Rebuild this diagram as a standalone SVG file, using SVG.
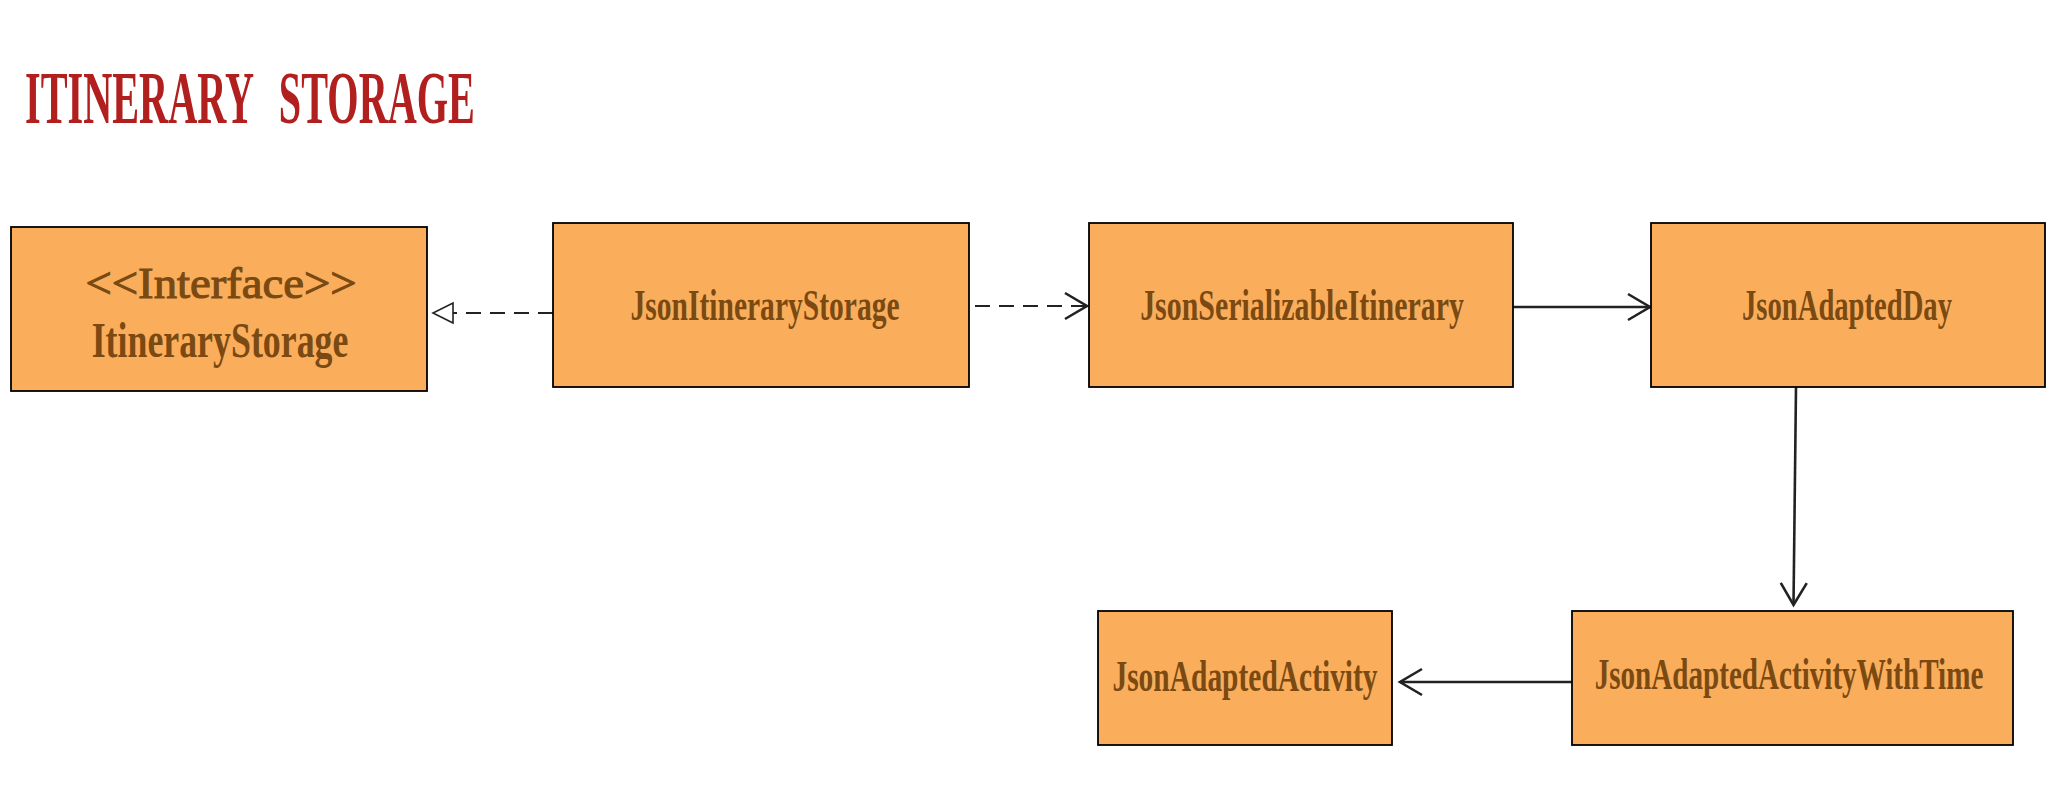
<svg xmlns="http://www.w3.org/2000/svg" width="2059" height="806" viewBox="0 0 2059 806">
<style>
.box{fill:#FAAE5C;stroke:#000;stroke-width:1.8}
.lbl{font-family:"Liberation Serif","DejaVu Serif",serif;font-weight:bold;fill:#7A4A12;text-anchor:middle;font-size:45px}
.title{font-family:"Liberation Serif","DejaVu Serif",serif;font-weight:bold;fill:#B21F1F;font-size:74px;word-spacing:30px}
.con{fill:none;stroke:#222;stroke-width:2.6}
.dash{stroke-dasharray:15 9;stroke-width:2.2}
</style>
<defs>
<marker id="open" markerUnits="userSpaceOnUse" viewBox="-26 -16 29 32" refX="0" refY="0" markerWidth="29" markerHeight="32" orient="auto" overflow="visible">
<path d="M -22 -13 L 0 0 L -22 13" fill="none" stroke="#222" stroke-width="2.6" stroke-linejoin="miter"/>
</marker>
<marker id="hollow" markerUnits="userSpaceOnUse" viewBox="-24 -14 27 28" refX="0" refY="0" markerWidth="27" markerHeight="28" orient="auto" overflow="visible">
<path d="M -20 -10 L 0 0 L -20 10 Z" fill="#fff" stroke="#222" stroke-width="1.6"/>
</marker>
</defs>
<rect width="2059" height="806" fill="#fff"/>
<text class="title" transform="translate(25,123) scale(0.53,1)" x="0" y="0" textLength="849" lengthAdjust="spacingAndGlyphs">ITINERARY STORAGE</text>

<g id="connectors">
<path class="con dash" d="M 553 313 L 433 313" marker-end="url(#hollow)"/>
<path class="con dash" d="M 975 306 L 1087 306" marker-end="url(#open)"/>
<path class="con" d="M 1513 307 L 1650 307" marker-end="url(#open)"/>
<path class="con" d="M 1796 387 L 1793.5 605" marker-end="url(#open)"/>
<path class="con" d="M 1572 682 L 1400 682" marker-end="url(#open)"/>
</g>

<g id="ItineraryStorage">
<rect class="box" x="11" y="227" width="416" height="164"/>
<text class="lbl" transform="translate(221,298) scale(0.65,1)" x="0" y="0" style="font-weight:normal;stroke:#7A4A12;stroke-width:1.1" textLength="417" lengthAdjust="spacingAndGlyphs">&lt;&lt;Interface&gt;&gt;</text>
<text class="lbl" transform="translate(220,357) scale(0.65,1)" x="0" y="0" style="font-size:50px" textLength="395" lengthAdjust="spacingAndGlyphs">ItineraryStorage</text>
</g>
<g id="JsonItineraryStorage">
<rect class="box" x="553" y="223" width="416" height="164"/>
<text class="lbl" transform="translate(765,320) scale(0.65,1)" x="0" y="0" textLength="414" lengthAdjust="spacingAndGlyphs">JsonItineraryStorage</text>
</g>
<g id="JsonSerializableItinerary">
<rect class="box" x="1089" y="223" width="424" height="164"/>
<text class="lbl" transform="translate(1302,320) scale(0.65,1)" x="0" y="0" textLength="498" lengthAdjust="spacingAndGlyphs">JsonSerializableItinerary</text>
</g>
<g id="JsonAdaptedDay">
<rect class="box" x="1651" y="223" width="394" height="164"/>
<text class="lbl" transform="translate(1847,320) scale(0.65,1)" x="0" y="0" textLength="323" lengthAdjust="spacingAndGlyphs">JsonAdaptedDay</text>
</g>
<g id="JsonAdaptedActivity">
<rect class="box" x="1098" y="611" width="294" height="134"/>
<text class="lbl" transform="translate(1245,691) scale(0.65,1)" x="0" y="0" textLength="408" lengthAdjust="spacingAndGlyphs">JsonAdaptedActivity</text>
</g>
<g id="JsonAdaptedActivityWithTime">
<rect class="box" x="1572" y="611" width="441" height="134"/>
<text class="lbl" transform="translate(1789,689) scale(0.65,1)" x="0" y="0" textLength="598" lengthAdjust="spacingAndGlyphs">JsonAdaptedActivityWithTime</text>
</g>
</svg>
